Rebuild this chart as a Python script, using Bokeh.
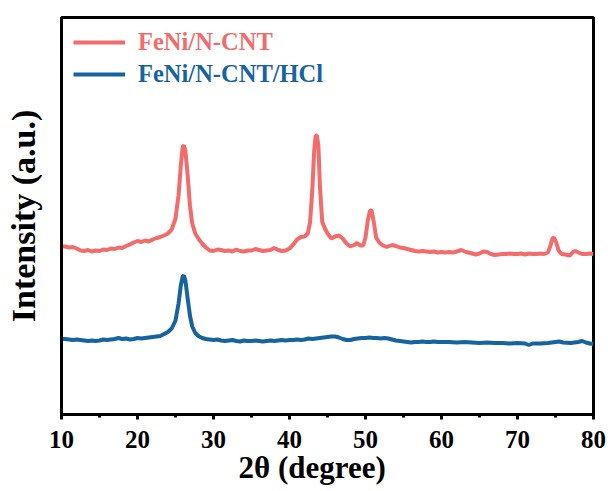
from bokeh.plotting import figure
from bokeh.models import Range1d, FixedTicker, Legend, LegendItem, Title
from bokeh.embed import file_html
from bokeh.resources import INLINE

# 2-theta (degree) and intensity (a.u.)
red_x = [10.0, 10.5, 11.0, 11.5, 12.0, 12.5, 13.0, 13.5, 14.0, 14.5, 15.0, 15.5, 16.0, 16.5, 17.0, 17.5,
         18.0, 18.5, 19.0, 19.5, 20.0, 20.5, 21.0, 21.5, 22.0, 22.5, 23.0, 23.5, 24.0, 24.5, 25.0, 25.4,
         25.7, 25.95, 26.1, 26.3, 26.6, 26.9, 27.2, 27.6, 28.0, 28.5, 29.0, 29.5, 30.0, 30.5, 31.0, 31.5,
         32.0, 32.5, 33.0, 33.5, 34.0, 34.5, 35.0, 35.5, 36.0, 36.5, 37.0, 37.5, 38.0, 38.5, 39.0, 39.5,
         40.0, 40.5, 41.0, 41.5, 42.0, 42.4, 42.7, 43.0, 43.25, 43.45, 43.6, 43.8, 44.0, 44.3, 44.6, 45.0,
         45.5, 46.0, 46.5, 47.0, 47.5, 48.0, 48.5, 48.9, 49.3, 49.7, 50.0, 50.3, 50.6, 50.8, 51.1, 51.4,
         51.8, 52.3, 52.8, 53.5, 54.0, 54.5, 55.0, 55.5, 56.0, 56.5, 57.0, 57.5, 58.0, 58.5, 59.0, 59.5,
         60.0, 60.5, 61.0, 61.5, 62.0, 62.6, 63.2, 63.8, 64.5, 65.0, 65.5, 66.0, 66.5, 67.0, 67.5, 68.0,
         68.5, 69.0, 69.5, 70.0, 70.5, 71.0, 71.5, 72.0, 72.5, 73.0, 73.5, 74.0, 74.3, 74.6, 74.8, 75.1,
         75.4, 75.8, 76.3, 76.9, 77.3, 77.6, 78.0, 78.5, 79.0, 79.5, 80.0]
red_y = [168, 168, 167, 167.5, 166, 164, 163.5, 164.5, 163, 164, 163.5, 165, 164.5, 166, 165.5, 167,
         166.5, 168.5, 170, 172, 173.5, 172.5, 174, 173, 175, 176.5, 177.5, 179, 181, 185, 196, 219,
         249, 268, 269, 264, 239, 209, 191, 181, 176, 171, 167, 164, 163.5, 165, 164.5, 163.5,
         164, 163, 165, 163.5, 163, 164, 164, 165.5, 164.5, 163.5, 164, 164.5, 166.5, 164.5, 163.5, 164,
         166, 170, 175, 177.5, 178, 181, 192, 224, 264, 279, 279, 269, 229, 193, 187, 181,
         176, 178, 179, 176, 171, 168, 169.5, 171.5, 169, 169, 177, 194, 204, 204, 192, 177,
         172, 169, 167.5, 169.5, 168.5, 167, 166.5, 165.5, 164.5, 163.5, 163, 163.5, 163, 162.5, 163, 162,
         162.5, 162, 162.5, 162, 163, 164.5, 162.5, 161.5, 160, 161, 163, 162.5, 160.5, 159.5, 160, 160.5,
         160.5, 161, 160.5, 160.5, 161, 160, 161, 160.5, 160.5, 161, 160.5, 162, 168, 176, 177, 172,
         164, 160.5, 160, 159, 162.5, 163.5, 162, 160.5, 160.5, 161, 160.5]

blue_x = [10.0, 10.5, 11.0, 11.5, 12.0, 12.5, 13.0, 13.5, 14.0, 14.5, 15.0, 15.5, 16.0, 16.5, 17.0, 17.5,
          18.0, 18.5, 19.0, 19.5, 20.0, 20.5, 21.0, 21.5, 22.0, 22.5, 23.0, 23.5, 24.0, 24.5, 25.0, 25.4,
          25.7, 25.95, 26.1, 26.3, 26.6, 26.9, 27.2, 27.6, 28.0, 28.5, 29.0, 29.5, 30.0, 30.5, 31.0, 31.5,
          32.0, 32.5, 33.0, 33.5, 34.0, 34.5, 35.0, 35.5, 36.0, 36.5, 37.0, 37.5, 38.0, 38.5, 39.0, 39.5,
          40.0, 40.5, 41.0, 41.5, 42.0, 42.5, 43.0, 43.5, 44.0, 44.5, 45.0, 45.5, 46.0, 46.5, 47.0, 47.5,
          48.0, 48.5, 49.0, 49.5, 50.0, 50.5, 51.0, 51.5, 52.0, 52.5, 53.0, 53.5, 54.0, 54.5, 55.0, 55.5,
          56.0, 56.5, 57.0, 57.5, 58.0, 58.5, 59.0, 59.5, 60.0, 61.0, 62.0, 63.0, 64.0, 65.0, 66.0, 67.0,
          68.0, 69.0, 70.0, 71.0, 71.5, 72.0, 73.0, 74.0, 75.0, 75.5, 76.0, 77.0, 78.0, 78.5, 79.0, 79.5, 80.0]
blue_y = [75.5, 75.5, 75, 74.5, 75, 74.5, 74, 73.5, 74, 73.5, 74, 75, 74.5, 75, 75.5, 76.5,
          75.5, 76, 75, 75.5, 76.5, 76, 76.5, 77, 77.5, 78, 78.5, 80.5, 82.5, 86, 94, 111,
          129, 138, 139, 134, 116, 99, 88, 81.5, 78.5, 76.5, 75.5, 75, 74.5, 75, 74, 73.5,
          74, 74.5, 73.5, 73, 74, 73.5, 73.5, 74, 73.5, 73, 73.5, 74, 73.5, 74, 74.5, 74,
          74.5, 74.5, 75, 74.5, 75, 76, 75.5, 76, 76.5, 77, 77.5, 78, 78, 77, 75.5, 74.5,
          74.5, 75.5, 76, 76.5, 76.5, 77, 76.5, 76.5, 76, 76.5, 76, 75, 74, 73.5, 73, 72.5,
          72, 72.5, 72.5, 73, 72.5, 72.5, 73, 72.5, 72.5, 72.5, 72, 72.5, 72, 71.5, 72, 71.5,
          71.5, 71, 71.5, 71, 69.5, 71, 71, 71.5, 72.5, 73, 72, 71.5, 72.5, 73.5, 72, 71, 70.5]

series_names = ["FeNi/N-CNT", "FeNi/N-CNT/HCl"]
x_ticks = [10, 20, 30, 40, 50, 60, 70, 80]
x_minor = [15, 25, 35, 45, 55, 65, 75]
x_title = "2θ (degree)"
y_title = "Intensity (a.u.)"

RED = "#F46B6B"
BLUE = "#1663A2"
FONT = "Liberation Serif"

p = figure(width=608, height=491, output_backend="svg", toolbar_location=None,
           x_range=Range1d(10, 80), y_range=Range1d(0, 397))
p.min_border_left = 61
p.min_border_right = 15
p.min_border_top = 17
p.min_border_bottom = 77
p.background_fill_color = "white"
p.border_fill_color = "white"
p.outline_line_color = "black"
p.outline_line_width = 3
p.xgrid.visible = False
p.ygrid.visible = False

r1 = p.line(red_x, red_y, line_color=RED, line_width=4)
r2 = p.line(blue_x, blue_y, line_color=BLUE, line_width=4)

xa = p.xaxis[0]
xa.ticker = FixedTicker(ticks=x_ticks, minor_ticks=x_minor)
xa.axis_line_width = 3
xa.major_tick_in = 0
xa.major_tick_out = 5
xa.minor_tick_in = 0
xa.minor_tick_out = 3
xa.major_tick_line_width = 3
xa.minor_tick_line_width = 3
xa.major_label_text_font = FONT
xa.major_label_text_font_style = "bold"
xa.major_label_text_font_size = "25px"
xa.major_label_text_color = "black"
xa.major_label_standoff = 11

# x-axis title, shifted left as in the reference
p.add_layout(Title(text=x_title, align="left", offset=177,
                   text_font=FONT, text_font_style="bold", text_font_size="31px",
                   text_color="black", standoff=-6), "below")

ya = p.yaxis[0]
ya.ticker = FixedTicker(ticks=[])
ya.axis_line_width = 3
ya.major_tick_in = 0
ya.major_tick_out = 0
ya.minor_tick_in = 0
ya.minor_tick_out = 0
ya.major_label_standoff = 0
ya.major_label_text_font_size = "0px"
ya.axis_label = y_title
ya.axis_label_text_font = FONT
ya.axis_label_text_font_style = "bold"
ya.axis_label_text_font_size = "34px"
ya.axis_label_text_color = "black"
ya.axis_label_standoff = 20

def make_legend(item_name, renderer, color, loc):
    lg = Legend(items=[LegendItem(label=item_name, renderers=[renderer])],
                location=loc, orientation="vertical")
    lg.border_line_color = None
    lg.background_fill_alpha = 0
    lg.padding = 0
    lg.margin = 0
    lg.spacing = 0
    lg.glyph_width = 52
    lg.glyph_height = 24
    lg.label_height = 24
    lg.label_standoff = 13
    lg.label_text_font = FONT
    lg.label_text_font_style = "bold"
    lg.label_text_font_size = "24.5px"
    lg.label_text_color = color
    lg.label_text_baseline = "middle"
    return lg

p.add_layout(make_legend(series_names[0], r1, RED, (12, 358)))
p.add_layout(make_legend(series_names[1], r2, BLUE, (12, 326)))

open("out.html", "w").write(file_html(p, INLINE))
